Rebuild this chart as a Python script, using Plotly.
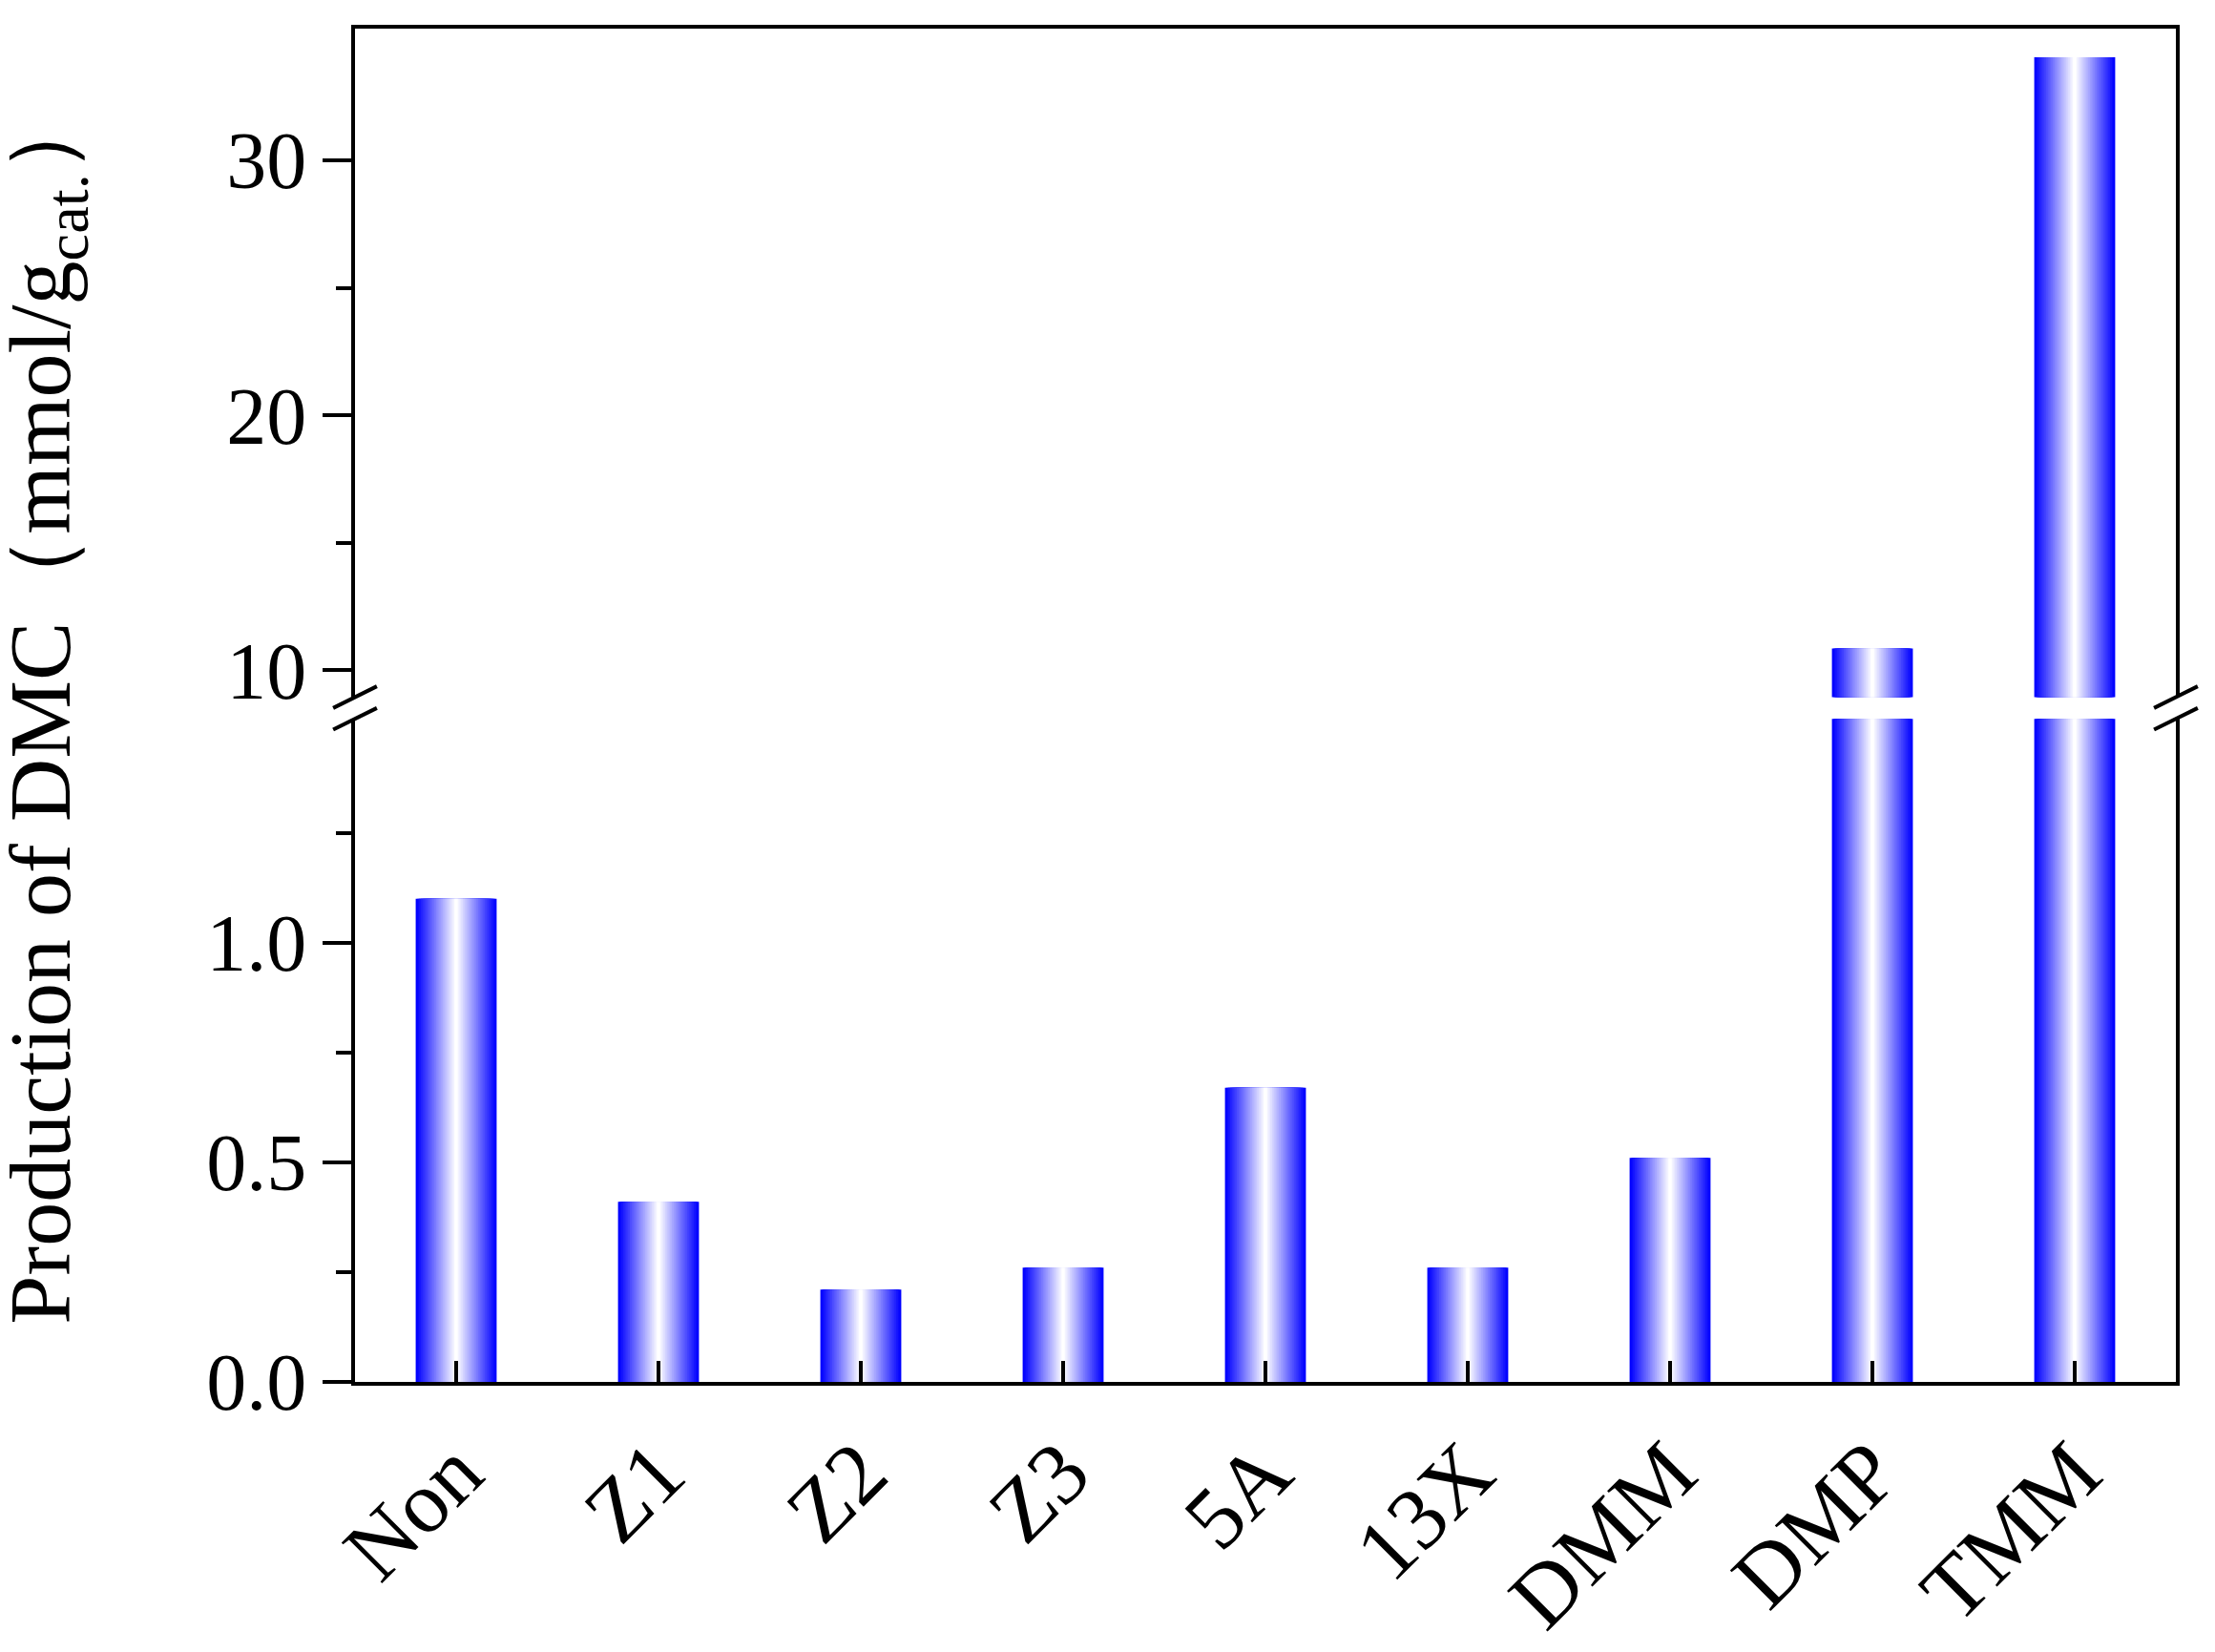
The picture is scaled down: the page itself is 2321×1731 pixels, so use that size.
import plotly.graph_objects as go
from plotly.subplots import make_subplots

categories = ["Non", "Z1", "Z2", "Z3", "5A", "13X", "DMM", "DMP", "TMM"]
dmc_values = [1.10, 0.41, 0.21, 0.26, 0.67, 0.26, 0.51, 10.85, 34.05]

FONT = "Liberation Serif"
N_LAYERS = 24
BAR_W = 0.40

fig = make_subplots(rows=2, cols=1, shared_xaxes=True, vertical_spacing=0.016,
                    row_heights=[0.494, 0.490])

# fake a horizontal blue-white-blue gradient by stacking narrower, lighter bars
for k in range(N_LAYERS):
    t = k / (N_LAYERS - 1)
    c = int(255 * t)
    color = f"rgb({c},{c},255)"
    w = BAR_W * (1 - k / N_LAYERS)
    for row in (1, 2):
        fig.add_trace(go.Bar(x=categories, y=dmc_values, width=w,
                             marker=dict(color=color, line=dict(width=0)),
                             showlegend=False, hoverinfo="skip"), row=row, col=1)

fig.update_layout(barmode="overlay", width=2321, height=1731,
                  plot_bgcolor="white", paper_bgcolor="white",
                  margin=dict(l=364, r=49, t=22, b=291),
                  font=dict(family=FONT, size=84, color="black"))

axis_common = dict(showgrid=False, zeroline=False, linecolor="black", linewidth=4,
                   tickcolor="black", tickwidth=4, ticklen=30, ticks="outside",
                   tickfont=dict(family=FONT, size=84))

# top panel
fig.update_yaxes(range=[8.94, 35.17], tickvals=[10, 20, 30], showline=True, mirror=True,
                 minor=dict(tickvals=[15, 25], ticks="outside", ticklen=16,
                            tickwidth=4, tickcolor="black"),
                 row=1, col=1, **axis_common)
fig.update_xaxes(showline=True, side="top", ticks="", showticklabels=False,
                 showgrid=False, linecolor="black", linewidth=4, row=1, col=1)

# bottom panel
fig.update_yaxes(range=[0, 1.51], tickvals=[0, 0.5, 1.0], ticktext=["0.0", "0.5", "1.0"],
                 showline=True, mirror=True,
                 minor=dict(tickvals=[0.25, 0.75, 1.25], ticks="outside", ticklen=16,
                            tickwidth=4, tickcolor="black"),
                 row=2, col=1, **axis_common)
fig.update_xaxes(showline=True, linecolor="black", linewidth=4, showgrid=False,
                 ticks="inside", ticklen=22, tickwidth=4, tickcolor="black",
                 tickangle=-45, tickfont=dict(family=FONT, size=92),
                 row=2, col=1)

# break marks on both sides
for xp in (0, 1):
    for yp in (0.490, 0.506):
        fig.add_shape(type="line", xref="paper", yref="paper",
                      x0=xp - 0.012, x1=xp + 0.012, y0=yp - 0.008, y1=yp + 0.008,
                      line=dict(color="black", width=4))

fig.add_annotation(text="Production of DMC（mmol/g<sub>cat.</sub>）",
                   xref="paper", yref="paper", x=-0.17, y=0.5, textangle=-90,
                   showarrow=False, font=dict(family=FONT, size=92),
                   xanchor="center", yanchor="middle")

fig.write_html("out.html")
